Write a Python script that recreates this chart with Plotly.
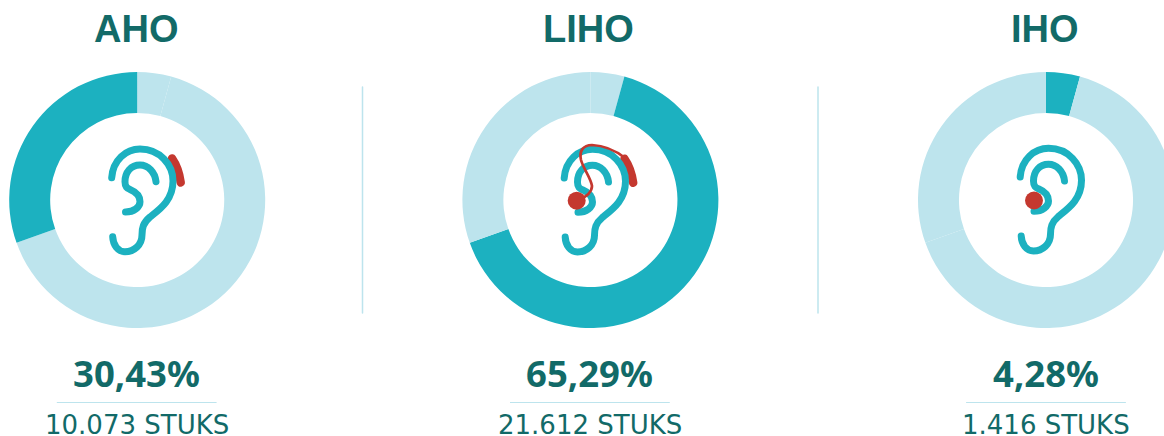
import plotly.graph_objects as go

W, H = 1174, 436
types = ["AHO", "LIHO", "IHO"]
segment_names = ["IHO", "LIHO", "AHO"]
segment_values = [4.28, 65.29, 30.43]
percent_labels = ["30,43%", "65,29%", "4,28%"]
unit_labels = ["10.073 STUKS", "21.612 STUKS", "1.416 STUKS"]
centers_x = [137.2, 590.4, 1046]
center_y = 200
R = 128
DARK, LIGHT, TITLE, RED = "#1cb1c0", "#bde4ed", "#126a68", "#c4382f"


def px(x):
    return x / W


def py(y):
    return 1 - y / H


def path(cmds):
    out = []
    for c, pts in cmds:
        if c == "M":
            out.append(f"M{px(pts[0][0]):.5f},{py(pts[0][1]):.5f}")
        else:
            for k in range(0, len(pts), 3):
                out.append("C" + " ".join(f"{px(x):.5f},{py(y):.5f}" for x, y in pts[k:k + 3]))
    return "".join(out)


fig = go.Figure()
for i, t in enumerate(types):
    cx = centers_x[i]
    colors = [DARK if n == t else LIGHT for n in segment_names]
    fig.add_trace(go.Pie(
        values=segment_values, labels=segment_names, sort=False, direction="clockwise",
        rotation=0, hole=0.68, textinfo="none", hoverinfo="none", showlegend=False,
        marker=dict(colors=colors, line=dict(width=0)),
        domain=dict(x=[px(cx - R), px(cx + R)], y=[py(center_y + R), py(center_y - R)]),
    ))

shapes, annotations = [], []

outer = [("M", [(111.7, 177.7)]),
         ("C", [(113, 160), (126, 149), (140, 149), (160, 149), (173, 165), (173, 181),
                (173, 200), (160, 209), (150, 217), (143, 223), (142, 228), (142, 235),
                (142, 245), (134, 251.7), (125, 251.7), (118, 251.7), (113, 245), (112.7, 236.7)])]
inner = [("M", [(156, 181.7)]),
         ("C", [(155, 172), (148, 165), (140, 165), (131, 165), (125, 172), (125, 181.7),
                (125, 187), (127, 188), (130, 189.5), (136, 192), (140, 196), (140, 201.7),
                (140, 207), (134, 212), (125.5, 212)])]
ear_offsets = [(0, 0), (452.5, 0.3), (908.5, -0.7)]


def moved(cmds, dx, dy):
    return [(c, [(x + dx, y + dy) for x, y in pts]) for c, pts in cmds]


def stroke(cmds, color, width):
    shapes.append(dict(type="path", xref="paper", yref="paper", path=path(cmds),
                       line=dict(color=color, width=width), layer="above"))


def dot(x, y, r):
    shapes.append(dict(type="circle", xref="paper", yref="paper",
                       x0=px(x - r), x1=px(x + r), y0=py(y + r), y1=py(y - r),
                       fillcolor=RED, line=dict(width=0), layer="above"))


bte = [("M", [(172, 158.5)]), ("C", [(176.5, 165), (179.5, 174), (180.7, 182.5)])]
stroke(bte, RED, 8.5)
stroke(moved(bte, 452.5, 0.3), RED, 8.5)

for i, (dx, dy) in enumerate(ear_offsets):
    stroke(moved(outer, dx, dy), DARK, 7)
    stroke(moved(inner, dx, dy), DARK, 7)

stroke([("M", [(625, 158)]),
        ("C", [(615, 150), (603, 145.5), (592, 145), (583, 145), (579, 151), (581, 160),
               (583, 168), (591, 178), (592, 186), (592, 192), (586, 197), (578, 200.7)])], RED, 2.7)
dot(576.7, 200.7, 9)
dot(1034, 200.5, 9)

for x in [362.5, 818]:
    shapes.append(dict(type="line", xref="paper", yref="paper", x0=px(x), x1=px(x),
                       y0=py(87), y1=py(313), line=dict(color=LIGHT, width=1.5)))

for i, cx in enumerate(centers_x):
    tx = cx - 0.5 if i < 2 else cx
    shapes.append(dict(type="line", xref="paper", yref="paper", x0=px(tx - 79.5), x1=px(tx + 79.5),
                       y0=py(402.5), y1=py(402.5), line=dict(color=LIGHT, width=1)))
    for text, x, y, size, family, weight in [(types[i], tx - 1, 29, 38, "Liberation Sans", 700),
                                             (percent_labels[i], tx, 373, 36.5, "Noto Sans", 700),
                                             (unit_labels[i], tx, 424.5, 26, "DejaVu Sans", 400)]:
        annotations.append(dict(
            text=text, x=px(x), y=py(y), xref="paper", yref="paper",
            xanchor="center", yanchor="middle", showarrow=False,
            font=dict(family=family, size=size, color=TITLE, weight=weight)))

fig.update_layout(width=W, height=H, margin=dict(l=0, r=0, t=0, b=0), paper_bgcolor="white",
                  shapes=shapes, annotations=annotations)

post = """
document.documentElement.style.overflow='hidden';
document.body.style.margin='0';document.body.style.overflow='hidden';
document.querySelectorAll('.shapelayer path').forEach(function(p){p.style.strokeLinecap='round';p.style.strokeLinejoin='round';});
"""
fig.write_html("out.html", post_script=post, config=dict(displayModeBar=False))
